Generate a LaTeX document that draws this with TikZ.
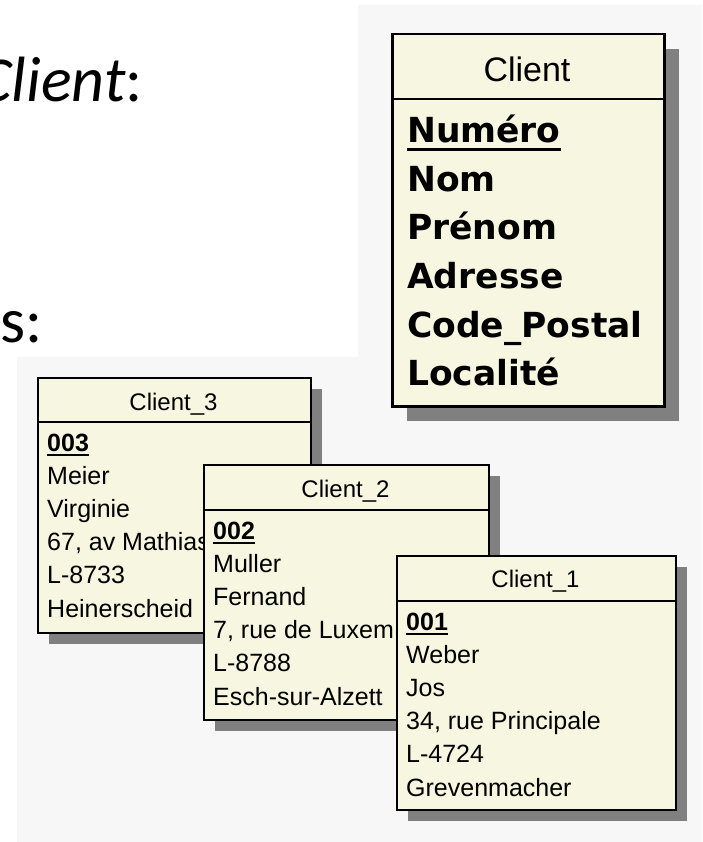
\documentclass[tikz,border=0pt]{standalone}
\usepackage{fontspec}
\newfontfamily\uifont{Liberation Sans}
\newfontfamily\attrfont{DejaVu Sans}
\newfontfamily\slidefont{Carlito}
\usetikzlibrary{shadows}
\definecolor{panelgray}{RGB}{247,247,247}
\definecolor{cream}{RGB}{247,247,225}
\definecolor{shadowgray}{RGB}{128,128,128}

\begin{document}
\begin{tikzpicture}[x=1pt, y=-1pt,
  entity/.style={draw=black, line width=2pt, fill=cream, anchor=north west,
    inner sep=0pt, general shadow={fill=shadowgray, shadow xshift=11pt, shadow yshift=-11pt}},
  bigentity/.style={draw=black, line width=2.5pt, fill=cream, anchor=north west,
    inner sep=0pt, general shadow={fill=shadowgray, shadow xshift=15pt, shadow yshift=-15pt}},
  divider/.style={line width=2pt},
  ulin/.style={line width=2pt},
  titletext/.style={anchor=base, inner sep=0pt, font=\uifont\fontsize{24}{28}\selectfont},
  bodytext/.style={anchor=base west, inner sep=0pt, font=\uifont\fontsize{25}{30}\selectfont},
  bigtitle/.style={anchor=base, inner sep=0pt, font=\uifont\fontsize{34}{40}\selectfont},
  attrtext/.style={anchor=base west, inner sep=0pt, font=\attrfont\bfseries\fontsize{34.5}{40}\selectfont},
  slide/.style={anchor=base east, inner sep=0pt, font=\slidefont\fontsize{64}{72}\selectfont}
]
\useasboundingbox (0,0) rectangle (702,842);
\clip (0,0) rectangle (702,842);

% page and the light panel behind the diagrams
\fill[white] (0,0) rectangle (702,842);
\fill[panelgray] (358,5) -- (702,5) -- (702,842) -- (17,842) -- (17,357) -- (358,357) -- cycle;

% slide text
\node[slide] (lblclass) at (143,102) {\itshape Client\upshape:};
\node[slide] (lblobjects) at (43,342) {ts:};

% class Client
\node[bigentity, minimum width=272pt, minimum height=372pt] (client) at (391,33) {};
\draw[divider, line width=2.5pt] (client.north west) ++(0,66) -- ++(272,0);
\node[bigtitle] (tclient) at (527,82) {Client};
\node[attrtext] (anum) at (407,143) {Numéro};
\draw[ulin, line width=2.5pt] ([yshift=-6.5pt]anum.base west) -- ([yshift=-6.5pt]anum.base east);
\node[attrtext] (anom) at (407,191.5) {Nom};
\node[attrtext] (apre) at (407,240) {Prénom};
\node[attrtext] (aadr) at (407,288.5) {Adresse};
\node[attrtext] (acp) at (407,337) {Code\_Postal};
\node[attrtext] (aloc) at (407,385) {Localité};

% object Client_3
\node[entity, minimum width=273pt, minimum height=255pt] (c3) at (37,377) {};
\draw[divider] (c3.north west) ++(0,45) -- ++(273,0);
\node[titletext] (t3) at (173.5,410) {Client\_3};
\node[bodytext] (c3a) at (47,451) {\bfseries 003};
\draw[ulin] ([yshift=-4pt]c3a.base west) -- ([yshift=-4pt]c3a.base east);
\node[bodytext] (c3b) at (47,484.2) {Meier};
\node[bodytext] (c3c) at (47,517.4) {Virginie};
\node[bodytext] (c3d) at (47,550.6) {67, av Mathias};
\node[bodytext] (c3e) at (47,583.8) {L-8733};
\node[bodytext] (c3f) at (47,617) {Heinerscheid};

% object Client_2
\node[entity, minimum width=285pt, minimum height=255pt] (c2) at (203,464) {};
\draw[divider] (c2.north west) ++(0,46) -- ++(285,0);
\node[titletext] (t2) at (345.5,497) {Client\_2};
\node[bodytext] (c2a) at (213,539) {\bfseries 002};
\draw[ulin] ([yshift=-4pt]c2a.base west) -- ([yshift=-4pt]c2a.base east);
\node[bodytext] (c2b) at (213,572.2) {Muller};
\node[bodytext] (c2c) at (213,605.4) {Fernand};
\node[bodytext] (c2d) at (213,638.6) {7, rue de Luxem};
\node[bodytext] (c2e) at (213,671.8) {L-8788};
\node[bodytext] (c2f) at (213,705) {Esch-sur-Alzett};

% object Client_1
\node[entity, minimum width=279pt, minimum height=254pt] (c1) at (396,555) {};
\draw[divider] (c1.north west) ++(0,46) -- ++(279,0);
\node[titletext] (t1) at (535.5,587) {Client\_1};
\node[bodytext] (c1a) at (406,630) {\bfseries 001};
\draw[ulin] ([yshift=-4pt]c1a.base west) -- ([yshift=-4pt]c1a.base east);
\node[bodytext] (c1b) at (406,663.2) {Weber};
\node[bodytext] (c1c) at (406,696.4) {Jos};
\node[bodytext] (c1d) at (406,729.6) {34, rue Principale};
\node[bodytext] (c1e) at (406,762.8) {L-4724};
\node[bodytext] (c1f) at (406,796) {Grevenmacher};
\end{tikzpicture}
\end{document}
